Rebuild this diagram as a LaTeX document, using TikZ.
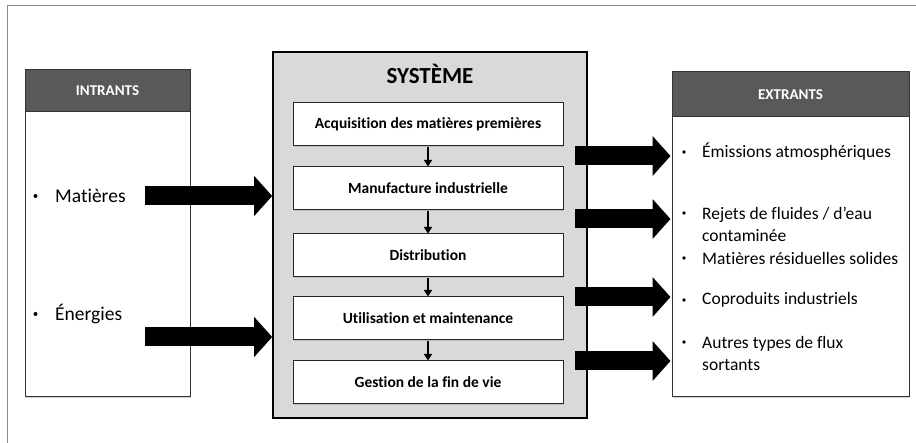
\documentclass[tikz,border=0pt]{standalone}
\usepackage{fontspec}
\setmainfont{Carlito}[Ligatures={NoCommon}]
\usetikzlibrary{arrows.meta,shadows}
\definecolor{hdr}{HTML}{595959}
\definecolor{sysfill}{HTML}{D9D9D9}
\definecolor{frm}{HTML}{8C8C8C}
\begin{document}
\begin{tikzpicture}[x=1pt,y=-1pt,
  panel/.style={draw=black!80,line width=1pt,fill=white,inner sep=0pt,
    drop shadow={shadow xshift=1.2pt,shadow yshift=-1.2pt,opacity=0.35}},
  header/.style={draw=black!80,line width=1pt,fill=hdr,inner sep=0pt,
    text=white,font=\fontsize{15}{18}\selectfont\bfseries},
  stagebox/.style={draw=black!85,line width=1pt,fill=white,inner sep=0pt,
    minimum width=270pt,minimum height=43pt,
    font=\fontsize{15.5}{18}\selectfont\bfseries,
    drop shadow={shadow xshift=1pt,shadow yshift=-1pt,opacity=0.3}},
  item/.style={anchor=west,inner sep=0pt,align=left},
  initem/.style={item,font=\fontsize{19.5}{23}\selectfont},
  outitem/.style={item,font=\fontsize{17.5}{22}\selectfont},
  dot/.style={circle,fill=black,inner sep=0pt,minimum size=4pt},
  bigarrow/.style={line width=19pt,black,-{Triangle[length=18pt,width=39pt]}},
  smallarrow/.style={line width=1.6pt,black,-{Triangle[length=6.5pt,width=8pt]},shorten <=0.5pt}
]
\useasboundingbox (0,0) rectangle (916,443);
\fill[white] (0,0) rectangle (916,443);
% outer frame (top and left)
\draw[frm,line width=1.5pt] (7.5,443) -- (7.5,5.5) -- (916,5.5);

% INTRANTS
\node[panel,minimum width=165pt,minimum height=327pt] (inbox) at (107.5,233.5) {};
\node[header,minimum width=165pt,minimum height=42pt] (inhdr) at (107.5,91) {INTRANTS};
\node[dot] (b1) at (35.5,196) {};
\node[initem] (mat) at (55,196) {Matières};
\node[dot] (b2) at (35.5,314) {};
\node[initem] (ene) at (55,314) {Énergies};

% SYSTEME
\node[draw=black,line width=1.6pt,fill=sysfill,minimum width=314pt,minimum height=366pt,inner sep=0pt,
  drop shadow={shadow xshift=1.2pt,shadow yshift=-1.2pt,opacity=0.35}] (sys) at (430,235) {};
\node[font=\fontsize{23}{26}\selectfont\bfseries] (systitle) at (430,74) {SYSTÈME};
\node[stagebox] (s1) at (428,124.5) {Acquisition des matières premières};
\node[stagebox] (s2) at (428,188.5) {Manufacture industrielle};
\node[stagebox] (s3) at (428,255.5) {Distribution};
\node[stagebox] (s4) at (428,318.5) {Utilisation et maintenance};
\node[stagebox] (s5) at (428,382.5) {Gestion de la fin de vie};
\draw[smallarrow] (s1.south) -- (s2.north);
\draw[smallarrow] (s2.south) -- (s3.north);
\draw[smallarrow] (s3.south) -- (s4.north);
\draw[smallarrow] (s4.south) -- (s5.north);

% EXTRANTS
\node[panel,minimum width=237pt,minimum height=325pt] (outbox) at (790.5,234.5) {};
\node[header,minimum width=237pt,minimum height=45pt] (outhdr) at (790.5,94.5) {EXTRANTS};
\node[dot,minimum size=3.6pt] (ob1) at (684,152) {};
\node[outitem] (o1) at (702,152) {Émissions atmosphériques};
\node[dot,minimum size=3.6pt] (ob2) at (684,213) {};
\node[outitem] (o2) at (702,224) {Rejets de fluides / d’eau\\contaminée};
\node[dot,minimum size=3.6pt] (ob3) at (684,258) {};
\node[outitem] (o3) at (702,258) {Matières résiduelles solides};
\node[dot,minimum size=3.6pt] (ob4) at (684,300) {};
\node[outitem] (o4) at (702,300) {Coproduits industriels};
\node[dot,minimum size=3.6pt] (ob5) at (684,342) {};
\node[outitem] (o5) at (702,353) {Autres types de flux\\sortants};

% big arrows
\coordinate (ia1) at (145,196);
\coordinate (ia2) at (145,337);
\draw[bigarrow] (ia1) -- (sys.west |- ia1);
\draw[bigarrow] (ia2) -- (sys.west |- ia2);
\coordinate (oa1) at (575,156);
\coordinate (oa2) at (575,219);
\coordinate (oa3) at (575,297);
\coordinate (oa4) at (575,361);
\draw[bigarrow] (oa1) -- ([xshift=-1pt]outbox.west |- oa1);
\draw[bigarrow] (oa2) -- ([xshift=-1pt]outbox.west |- oa2);
\draw[bigarrow] (oa3) -- ([xshift=-1pt]outbox.west |- oa3);
\draw[bigarrow] (oa4) -- ([xshift=-1pt]outbox.west |- oa4);
\end{tikzpicture}
\end{document}
